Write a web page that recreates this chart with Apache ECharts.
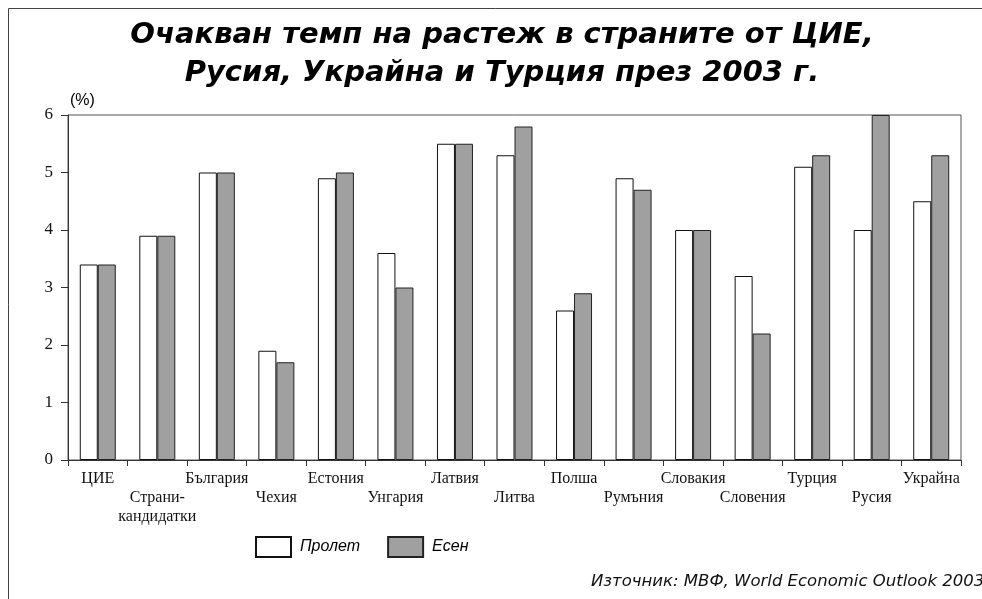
<!DOCTYPE html>
<html>
<head>
<meta charset="utf-8">
<script src="https://cdn.jsdelivr.net/npm/echarts@6/dist/echarts.min.js"></script>
<style>
  html, body { margin: 0; padding: 0; background: #fff; }
  #chart { width: 982px; height: 599px; }
</style>
</head>
<body>
<div id="chart"></div>
<script>
// Expected 2003 growth rates (%), spring vs autumn forecasts
const categories = [
  'ЦИЕ', 'Страни-\nкандидатки', 'България', 'Чехия', 'Естония',
  'Унгария', 'Латвия', 'Литва', 'Полша', 'Румъния',
  'Словакия', 'Словения', 'Турция', 'Русия', 'Украйна'
];
const spring = [3.4, 3.9, 5.0, 1.9, 4.9, 3.6, 5.5, 5.3, 2.6, 4.9, 4.0, 3.2, 5.1, 4.0, 4.5];
const autumn = [3.4, 3.9, 5.0, 1.7, 5.0, 3.0, 5.5, 5.8, 2.9, 4.7, 4.0, 2.2, 5.3, 6.0, 5.3];
const yTicks = [0, 1, 2, 3, 4, 5, 6];
const seriesNames = ['Пролет', 'Есен'];

const chart = echarts.init(document.getElementById('chart'), null, { renderer: 'canvas' });

const serif = '"Liberation Serif", "DejaVu Serif", serif';
const sans = '"Liberation Sans", Arial, sans-serif';
const wideSans = '"DejaVu Sans", "Liberation Sans", sans-serif';

chart.setOption({
  animation: false,
  backgroundColor: '#fff',
  title: {
    text: 'Очакван темп на растеж в страните от ЦИЕ,\nРусия, Украйна и Турция през 2003 г.',
    left: 497,
    top: 11,
    textAlign: 'center',
    textStyle: {
      fontFamily: wideSans,
      fontSize: 29,
      fontStyle: 'italic',
      fontWeight: 'bold',
      color: '#000',
      lineHeight: 38
    }
  },
  grid: {
    left: 68,
    top: 115,
    width: 893,
    height: 345,
    show: true,
    borderColor: '#555',
    borderWidth: 1,
    containLabel: false
  },
  legend: {
    left: 255,
    top: 536,
    padding: 0,
    itemWidth: 35,
    itemHeight: 20,
    itemGap: 27,
    icon: 'rect',
    data: seriesNames,
    textStyle: {
      fontFamily: sans,
      fontSize: 16,
      fontStyle: 'italic',
      color: '#000',
      padding: [0, 0, 0, 4]
    }
  },
  xAxis: {
    type: 'category',
    data: categories,
    axisLine: { lineStyle: { color: '#333', width: 1 } },
    axisTick: { show: true, inside: false, length: 6, lineStyle: { color: '#333' } },
    axisLabel: {
      interval: 0,
      margin: 9,
      fontFamily: serif,
      fontSize: 16,
      color: '#111',
      lineHeight: 19,
      verticalAlign: 'top',
      formatter: function (v, i) { return i % 2 === 1 ? '\n' + v : v; }
    },
    splitLine: { show: false }
  },
  yAxis: {
    type: 'value',
    min: yTicks[0],
    max: yTicks[yTicks.length - 1],
    interval: 1,
    name: '(%)',
    nameLocation: 'end',
    nameGap: 6,
    nameTextStyle: {
      fontFamily: sans,
      fontSize: 16,
      color: '#000',
      align: 'left',
      padding: [0, 0, 0, 2]
    },
    axisLine: { show: true, lineStyle: { color: '#333', width: 1 } },
    axisTick: { show: true, inside: false, length: 7, lineStyle: { color: '#333' } },
    axisLabel: {
      margin: 15,
      fontFamily: serif,
      fontSize: 17,
      color: '#111'
    },
    splitLine: { show: false }
  },
  series: [
    {
      name: seriesNames[0],
      type: 'bar',
      data: spring,
      barWidth: 18,
      barGap: '0%',
      itemStyle: { color: '#ffffff', borderColor: '#111', borderWidth: 1 }
    },
    {
      name: seriesNames[1],
      type: 'bar',
      data: autumn,
      barWidth: 18,
      barGap: '0%',
      itemStyle: { color: '#a0a0a0', borderColor: '#222', borderWidth: 1 }
    }
  ],
  graphic: [
    {
      type: 'rect',
      shape: { x: 8.5, y: 8.5, width: 1200, height: 1200 },
      style: { fill: 'none', stroke: '#444', lineWidth: 1 },
      silent: true
    },
    {
      type: 'text',
      left: 591,
      top: 573,
      style: {
        text: 'Източник: МВФ, World Economic Outlook 2003',
        font: 'italic 16.5px "DejaVu Sans", "Liberation Sans", sans-serif',
        fill: '#111'
      },
      silent: true
    }
  ]
});
</script>
</body>
</html>
